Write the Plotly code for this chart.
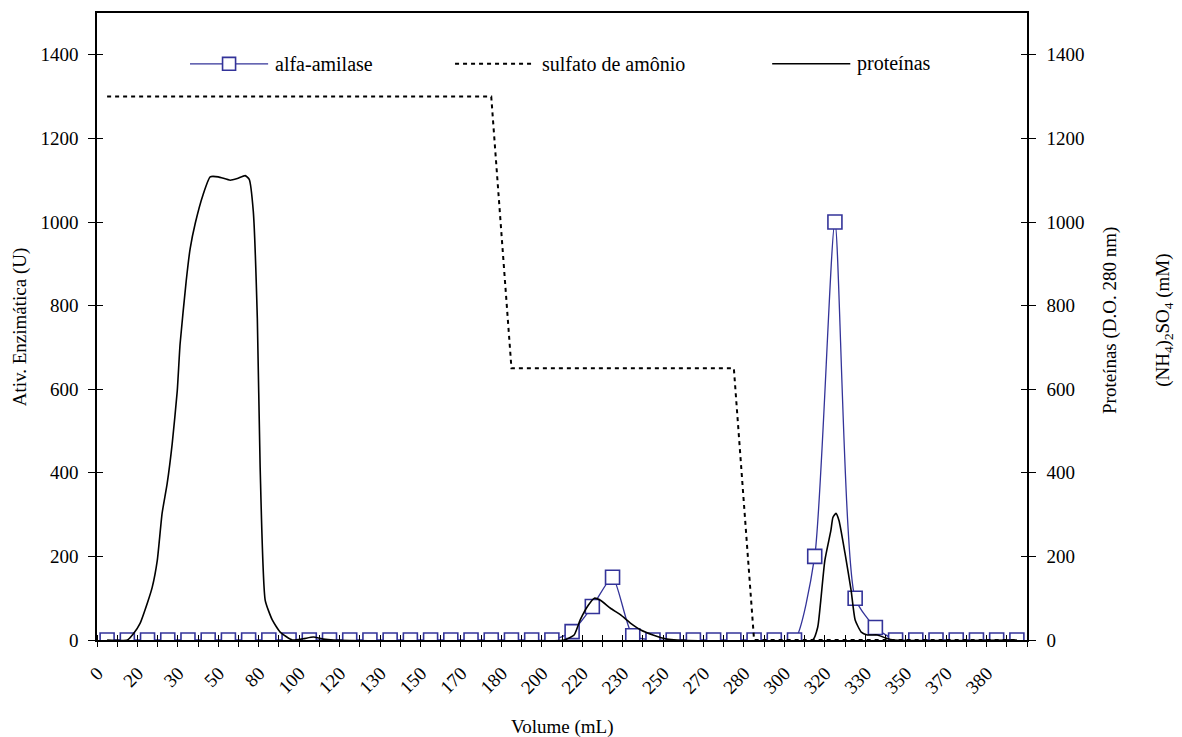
import plotly.graph_objects as go

# Fraction index along the volume axis (one per collected fraction)
fraction_idx = list(range(46))

# Labels printed under every other fraction
volume_labels = ["0", "20", "30", "50", "80", "100", "120", "130", "150", "170",
                 "180", "200", "220", "230", "250", "270", "280", "300", "320",
                 "330", "350", "370", "380"]
label_idx = list(range(0, 46, 2))

# Enzyme activity per fraction (U)
alfa_amilase = [0, 0, 0, 0, 0, 0, 0, 0, 0, 0,
                0, 0, 0, 0, 0, 0, 0, 0, 0, 0,
                0, 0, 0, 20, 80, 150, 10, 0, 0, 0,
                0, 0, 0, 0, 0, 200, 1000, 100, 30, 0,
                0, 0, 0, 0, 0, 0]

# Ammonium sulfate step gradient (mM)
sulfato = [1300] * 20 + [650] * 12 + [0] * 14

# Absorbance trace (continuous monitor), positions in fraction units
protein_pos = [0, 1.0, 1.3, 1.63, 2.0, 2.23, 2.48, 2.72, 2.97, 3.22, 3.47, 3.61,
               3.91, 4.11, 4.36, 4.75, 5.10, 5.50, 6.09, 6.44, 6.83, 7.03, 7.23,
               7.43, 7.57, 7.82, 8.17, 8.56, 9.16, 9.7, 10.2, 10.7, 11.2,
               22.6, 23.1, 23.4, 23.8, 24.1, 24.4, 24.9, 25.4, 25.9, 26.4, 27.0,
               27.7, 28.2, 34.9, 35.15, 35.3, 35.5, 35.8, 35.9, 36.05, 36.2, 36.5,
               36.8, 37.0, 37.3, 37.6, 38.1, 38.5, 38.9, 45]
protein_val = [0, 0, 15, 40, 90, 126, 190, 303, 374, 470, 596, 708,
               858, 937, 997, 1066, 1108, 1108, 1100, 1104, 1111, 1102, 1026,
               770, 413, 95, 48, 19, 0, 3, 7, 2, 0,
               0, 12, 48, 83, 100, 95, 76, 60, 40, 24, 12,
               2, 0, 0, 31, 95, 190, 262, 293, 303, 286, 207,
               119, 48, 19, 12, 12, 5, 0, 0]

FONT = "Liberation Serif"
BLUE = "#333399"
Y_RANGE = [0, 1500]
X_RANGE = [-0.5, 45.5]
Y_TICKS = list(range(0, 1401, 200))
# Rotated labels sit slightly left of their fraction, as in spreadsheet charts
LABEL_SHIFT = -0.48

fig = go.Figure()

fig.add_trace(go.Scatter(
    x=fraction_idx, y=sulfato, mode="lines", name="sulfato de amônio",
    line=dict(color="black", width=2, dash="4px,4px"), yaxis="y2"))

fig.add_trace(go.Scatter(
    x=fraction_idx, y=alfa_amilase, mode="lines+markers", name="alfa-amilase",
    line=dict(color=BLUE, width=1.3, shape="spline", smoothing=0.6),
    marker=dict(symbol="square", size=14, color="white",
                line=dict(color=BLUE, width=1.6))))

fig.add_trace(go.Scatter(
    x=protein_pos, y=protein_val, mode="lines", name="proteínas",
    line=dict(color="black", width=1.6, shape="spline", smoothing=0.5),
    yaxis="y2"))

tick_font = dict(family=FONT, size=19, color="black")

fig.update_layout(
    width=1182, height=737,
    margin=dict(l=97, r=155, t=11, b=97),
    paper_bgcolor="white", plot_bgcolor="white",
    showlegend=False,
    font=dict(family=FONT, size=19, color="black"),
    xaxis=dict(
        range=X_RANGE, tickmode="array",
        tickvals=[i + LABEL_SHIFT for i in label_idx], ticktext=volume_labels,
        tickangle=-45, ticks="", ticklabelstandoff=13, tickfont=tick_font,
        showgrid=False, zeroline=False, showline=True, linecolor="black",
        linewidth=1.5, mirror=True,
        minor=dict(tickmode="linear", tick0=-0.5, dtick=1, ticks="outside",
                   ticklen=5, tickcolor="black", tickwidth=1, showgrid=False)),
    xaxis2=dict(
        range=X_RANGE, overlaying="x", anchor="y", side="bottom",
        showticklabels=False, showgrid=False, zeroline=False, showline=False,
        tickmode="array", tickvals=[], ticks="",
        minor=dict(tickmode="linear", tick0=-0.5, dtick=1, ticks="inside",
                   ticklen=5, tickcolor="black", tickwidth=1, showgrid=False)),
    yaxis=dict(
        range=Y_RANGE, tickvals=Y_TICKS, ticks="outside", ticklen=7,
        tickwidth=1, tickcolor="black", ticklabelstandoff=6, tickfont=tick_font,
        showgrid=False, zeroline=False, showline=True, linecolor="black",
        linewidth=1.5),
    yaxis2=dict(
        range=Y_RANGE, tickvals=Y_TICKS, overlaying="y", side="right",
        anchor="x", ticks="outside", ticklen=7, tickwidth=1, tickcolor="black",
        ticklabelstandoff=7, tickfont=tick_font, showgrid=False, zeroline=False,
        showline=True, linecolor="black", linewidth=1.5),
    yaxis3=dict(
        range=Y_RANGE, tickvals=Y_TICKS, overlaying="y", side="left", anchor="x",
        ticks="inside", ticklen=6, tickwidth=1, tickcolor="black",
        showticklabels=False, showgrid=False, zeroline=False, showline=False),
    yaxis4=dict(
        range=Y_RANGE, tickvals=Y_TICKS, overlaying="y", side="right", anchor="x",
        ticks="inside", ticklen=6, tickwidth=1, tickcolor="black",
        showticklabels=False, showgrid=False, zeroline=False, showline=False),
)

# Invisible carriers so the tick-only overlay axes are rendered
fig.add_trace(go.Scatter(x=[None], y=[None], xaxis="x2", yaxis="y3",
                         showlegend=False, hoverinfo="skip"))
fig.add_trace(go.Scatter(x=[None], y=[None], yaxis="y4",
                         showlegend=False, hoverinfo="skip"))

# Axis titles
titles = [
    dict(text="Ativ. Enzimática (U)", x=-0.083, y=0.5, textangle=-90),
    dict(text="Proteínas (D.O. 280 nm)", x=1.089, y=0.51, textangle=-90),
    dict(text="(NH<sub>4</sub>)<sub>2</sub>SO<sub>4</sub> (mM)", x=1.148, y=0.51,
         textangle=-90),
    dict(text="Volume (mL)", x=0.5, y=-0.138, textangle=0),
]
for t in titles:
    fig.add_annotation(xref="paper", yref="paper", showarrow=False,
                       xanchor="center", yanchor="middle",
                       font=dict(family=FONT, size=19, color="black"), **t)

# Legend row drawn inside the plot area
LEG_Y = 0.919
legend_items = [
    ("alfa-amilase", 0.100, 0.184, dict(color=BLUE, width=1.3), True),
    ("sulfato de amônio", 0.385, 0.471, dict(color="black", width=2, dash="4px,4px"), False),
    ("proteínas", 0.726, 0.810, dict(color="black", width=1.6), False),
]
for label, x0, x1, line, with_box in legend_items:
    fig.add_shape(type="line", xref="paper", yref="paper",
                  x0=x0, x1=x1, y0=LEG_Y, y1=LEG_Y, line=line)
    if with_box:
        xc = (x0 + x1) / 2
        fig.add_shape(type="rect", xref="paper", yref="paper",
                      x0=xc - 0.007, x1=xc + 0.007,
                      y0=LEG_Y - 0.0103, y1=LEG_Y + 0.0103,
                      line=dict(color=BLUE, width=1.6), fillcolor="white")
    fig.add_annotation(xref="paper", yref="paper", x=x1 + 0.005, y=LEG_Y,
                       text=label, showarrow=False, xanchor="left",
                       yanchor="middle",
                       font=dict(family=FONT, size=20, color="black"))

fig.write_html("out.html")
